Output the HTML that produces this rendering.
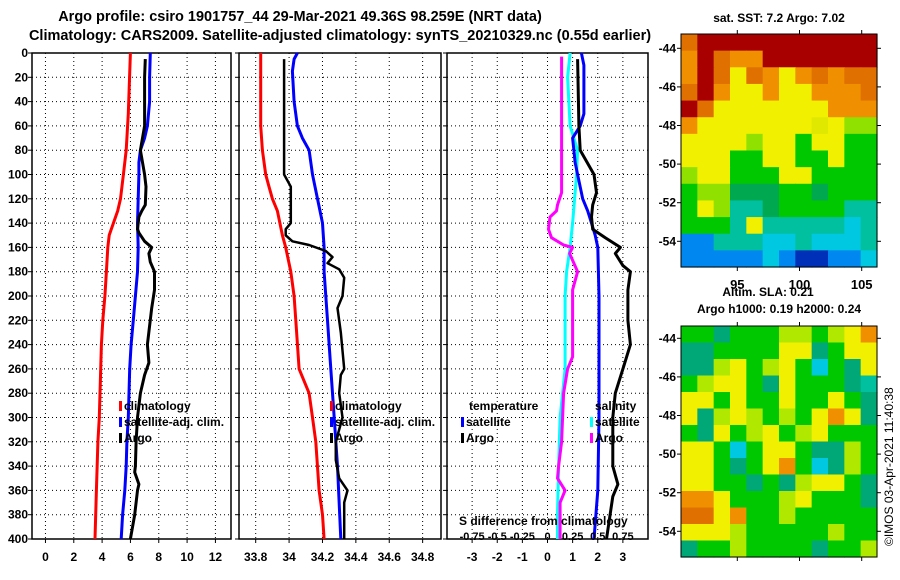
<!DOCTYPE html>
<html><head><meta charset="utf-8"><style>
body{margin:0;background:#fff;}
svg{display:block;font-family:"Liberation Sans",sans-serif;font-weight:bold;}
</style></head><body>
<svg id="c" width="900" height="580" viewBox="0 0 900 580">
<text x="300" y="21" font-size="14.5" text-anchor="middle">Argo profile: csiro 1901757_44 29-Mar-2021 49.36S 98.259E (NRT data)</text>
<text x="340" y="40" font-size="14.5" text-anchor="middle">Climatology: CARS2009. Satellite-adjusted climatology: synTS_20210329.nc (0.55d earlier)</text>
<text x="779" y="22" font-size="12" text-anchor="middle">sat. SST: 7.2 Argo: 7.02</text>
<text x="768" y="296" font-size="12" text-anchor="middle">Altim. SLA: 0.21</text>
<text x="779" y="313" font-size="12" text-anchor="middle">Argo h1000: 0.19 h2000: 0.24</text>
<text transform="translate(893,546) rotate(-90)" font-size="12" font-weight="normal">©IMOS 03-Apr-2021 11:40:38</text>
</svg>
<script>
// ---- data ----
const tClimD=[0,50,80,100,120,130,140,150,160,180,200,220,240,260,280,300,320,360,400];
const tClimV=[6.0,5.85,5.7,5.5,5.3,5.1,4.8,4.5,4.4,4.3,4.2,4.05,3.95,3.9,3.85,3.8,3.7,3.6,3.5];
const tSatD=[0,20,40,60,70,80,90,100,140,160,180,200,220,240,260,280,300,320,340,360,380,400];
const tSatV=[7.4,7.35,7.35,7.2,7.0,6.7,6.6,6.6,6.5,6.55,6.5,6.35,6.2,6.05,5.95,5.9,5.85,5.75,5.7,5.6,5.45,5.35];
const tArgoD=[5,20,60,80,100,110,125,130,135,145,148,155,160,165,172,180,195,210,240,255,265,280,300,320,340,345,355,360,380,400];
const tArgoV=[7.05,7.0,7.0,6.7,7.0,7.1,7.05,6.8,6.6,6.5,6.6,7.0,7.5,7.3,7.4,7.7,7.7,7.5,7.2,7.3,7.0,6.7,6.5,6.4,6.35,6.3,6.6,6.5,6.3,6.0];
const sClimD=[0,60,80,100,110,120,130,150,160,180,200,220,260,280,300,320,360,380,400];
const sClimV=[33.83,33.83,33.84,33.86,33.88,33.9,33.93,33.96,33.98,34.01,34.03,34.04,34.06,34.12,34.14,34.16,34.18,34.2,34.21];
const sSatD=[0,5,15,40,60,70,80,100,120,140,160,180,220,260,300,340,400];
const sSatV=[34.05,34.03,34.02,34.03,34.05,34.08,34.12,34.14,34.17,34.2,34.21,34.21,34.23,34.25,34.27,34.29,34.31];
const sArgoD=[5,100,110,140,145,150,155,158,163,168,173,178,185,200,210,230,260,265,280,300,320,335,350,360,370,400];
const sArgoV=[33.97,33.97,34.01,34.01,33.98,33.98,34.02,34.12,34.22,34.26,34.23,34.3,34.33,34.32,34.29,34.31,34.33,34.31,34.3,34.32,34.28,34.28,34.3,34.35,34.33,34.33];
const dtSatD=[0,10,50,60,70,80,90,100,120,130,140,150,160,200,300,360,400];
const dtSatV=[1.35,1.45,1.45,1.3,1.0,1.05,1.1,1.2,1.4,1.6,1.75,1.9,2.0,2.05,2.05,2.0,1.85];
const dtArgoD=[5,60,80,100,115,125,135,145,152,160,165,175,180,195,220,240,260,280,300,320,340,355,365,400];
const dtArgoV=[1.2,1.25,1.3,1.85,1.95,1.8,1.75,1.8,2.3,2.9,2.7,3.0,3.3,3.2,3.2,3.3,3.0,2.7,2.6,2.6,2.6,2.8,2.6,2.35];
const dsSatD=[0,20,60,80,100,140,160,180,200,260,280,300,340,380,400];
const dsSatV=[0.225,0.2,0.225,0.3,0.29,0.25,0.225,0.19,0.175,0.175,0.15,0.125,0.11,0.1,0.1];
const dsArgoD=[3,100,115,125,130,135,145,152,158,160,165,180,195,220,250,260,280,300,320,340,350,360,370,400];
const dsArgoV=[0.14,0.14,0.14,0.1,0.09,0.025,0.01,0.04,0.16,0.25,0.22,0.3,0.25,0.25,0.25,0.2,0.16,0.15,0.14,0.11,0.1,0.175,0.125,0.125];
const depthTicks=[0,20,40,60,80,100,120,140,160,180,200,220,240,260,280,300,320,340,360,380,400];
const tTicks=[0,2,4,6,8,10,12];
const sTicks=[33.8,34,34.2,34.4,34.6,34.8];
const dTicks=[-3,-2,-1,0,1,2,3];
const dsTickLabels=["-0.75","-0.5","-0.25","0","0.25","0.5","0.75"];
const dsTickVals=[-0.75,-0.5,-0.25,0,0.25,0.5,0.75];

const NS='http://www.w3.org/2000/svg';
const svg=document.getElementById('c');
function el(tag,attrs,parent){const e=document.createElementNS(NS,tag);for(const k in attrs)e.setAttribute(k,attrs[k]);(parent||svg).appendChild(e);return e;}
const Y0=53,Y1=539;
const yS=d=>Y0+(Y1-Y0)*d/400;
function panel(name,x0,x1,dmin,dmax,ticks,labelTicks,showDepth){
  const g=el('g',{});
  
  
  const xs=v=>x0+(x1-x0)*(v-dmin)/(dmax-dmin);
  ticks.forEach(t=>{const x=xs(t);
    const l=el('line',{x1:x,x2:x,y1:Y0,y2:Y1,stroke:'#000','stroke-dasharray':'1,3','stroke-width':1},g);
    
    el('line',{x1:x,x2:x,y1:Y1,y2:Y1+4,stroke:'#000'},g);
    if(labelTicks){const tx=el('text',{x:x,y:Y1+22,'font-size':12,'text-anchor':'middle'},g);tx.textContent=String(t);
      }
  });
  depthTicks.forEach(d=>{const y=yS(d);
    const l=el('line',{x1:x0,x2:x1,y1:y,y2:y,stroke:'#000','stroke-dasharray':'1,3'},g);
    
    el('line',{x1:x0-4,x2:x0,y1:y,y2:y,stroke:'#000'},g);
    if(showDepth){const tx=el('text',{x:x0-4,y:y+4,'font-size':12,'text-anchor':'end'},g);tx.textContent=String(d);
      }
  });
  const r=el('rect',{x:x0,y:Y0,width:x1-x0,height:Y1-Y0,fill:'none',stroke:'#000','stroke-width':1.5},g);
  
  return {g,xs};
}
function line(p,D,V,color,w,name,scale){
  const pts=D.map((d,i)=>p.xs(V[i]*(scale||1)).toFixed(1)+','+yS(d).toFixed(1)).join(' ');
  const pl=el('polyline',{points:pts,fill:'none',stroke:color,'stroke-width':w,'stroke-linejoin':'round'},p.g);
  
  
}
function legend(x,y,color,text,name){
  el('rect',{x:x,y:y-9,width:3,height:10,fill:color});
  const t=el('text',{x:x+5,y:y,'font-size':12});t.textContent=text;
  
  
}
// panel 1
const p1=panel('temperature-panel',32,231,-0.95,13.1,tTicks,true,true);
line(p1,tClimD,tClimV,'#f00',3,'temp-climatology-line');
line(p1,tSatD,tSatV,'#00f',3,'temp-satellite-line');
line(p1,tArgoD,tArgoV,'#000',3,'temp-argo-line');
legend(119,410,'#f00','climatology','legend-climatology');
legend(119,426,'#00f','satellite-adj. clim.','legend-satellite');
legend(119,442,'#000','Argo','legend-argo');
// panel 2
const p2=panel('salinity-panel',239,441,33.70,34.91,sTicks,true,false);
line(p2,sClimD,sClimV,'#f00',3,'sal-climatology-line');
line(p2,sSatD,sSatV,'#00f',3,'sal-satellite-line');
line(p2,sArgoD,sArgoV,'#000',2.5,'sal-argo-line');
legend(330,410,'#f00','climatology','legend-climatology-2');
legend(330,426,'#00f','satellite-adj. clim.','legend-satellite-2');
legend(330,442,'#000','Argo','legend-argo-2');
// panel 3
const p3=panel('difference-panel',447,648,-4,4,dTicks,true,false);
line(p3,dsSatD,dsSatV,'#0ff',3,'sal-diff-satellite-line',4);
line(p3,dsArgoD,dsArgoV,'#f0f',3,'sal-diff-argo-line',4);
line(p3,dtSatD,dtSatV,'#00f',3,'temp-diff-satellite-line');
line(p3,dtArgoD,dtArgoV,'#000',3,'temp-diff-argo-line');
{const t=el('text',{x:469,y:410,'font-size':12});t.textContent='temperature';

const s=el('text',{x:595,y:410,'font-size':12});s.textContent='salinity';
}
legend(461,426,'#00f','satellite','legend-temp-satellite');
legend(461,442,'#000','Argo','legend-temp-argo');
legend(590,426,'#0ff','satellite','legend-sal-satellite');
legend(590,442,'#f0f','Argo','legend-sal-argo');
{const t=el('text',{x:459,y:525,'font-size':12});t.textContent='S difference from climatology';
}
dsTickVals.forEach((v,i)=>{const t=el('text',{x:p3.xs(v*4),y:540,'font-size':11,'text-anchor':'middle'});t.textContent=dsTickLabels[i];
});

// maps
const pal={R:'#a80000',r:'#c83000',O:'#f09000',o:'#e07000',Y:'#f0f000',y:'#e0e800',g:'#90e000',G:'#00c800',D:'#00a850',T:'#00c0a0',C:'#00c8e0',B:'#0088f0',N:'#0030b8',L:'#b0e800',K:'#00a878'};
const map1=["oRRRRRRRRRRR","ORoOORRRRRRR","ORoYoOYOoOoo","oROYYOYYOOOo","RoYYYYYYYOOO","OYYYYYYYyYgg","YYYYgYYGYYGG","YYYGGYYGGYGG","gYYGGGYYGGGG","GggDDDGGDGGG","GYgTTDGGGGTT","GGGTYTTTTTCT","BBTTTCCTCCCT","BBBBBCBNNBBC"];
const map2=["GGKGGGLLGLYO","KKGGGGYYKGYY","KKLYGLYGCGKY","GLYYGKYGGGKT","YYGYGGYGGYGK","YKLYLGLGYOYK","GKYGLYGLYGGG","YYGCGYYGKKLG","YYGKGYOGCKLG","YYGGKGKLYYGK","OOYGGGLYGGGK","ooYOGGLGGGGG","YYYLGGGGGLGG","KGGLGGGGKGGL"];
function drawMap(name,grid,x0,y0,w,h,latTop){
  const g=el('g',{});
  
  
  const rows=grid.length,cols=grid[0].length,cw=w/cols,ch=h/rows;
  grid.forEach((row,i)=>{for(let j=0;j<cols;j++){el('rect',{x:x0+j*cw,y:y0+i*ch,width:cw+0.6,height:ch+0.6,fill:pal[row[j]]},g);}});
  el('rect',{x:x0,y:y0,width:w,height:h,fill:'none',stroke:'#000','stroke-width':1},g);
  [-44,-46,-48,-50,-52,-54].forEach(l=>{const y=latTop+(-44-l)*19.3;
    el('line',{x1:x0+w,x2:x0+w+4,y1:y,y2:y,stroke:'#000'},g);
    el('line',{x1:x0-4,x2:x0,y1:y,y2:y,stroke:'#000'},g);
    const t=el('text',{x:x0-5,y:y+4,'font-size':12,'text-anchor':'end'},g);t.textContent=String(l);
    });
  [95,100,105].forEach(lo=>{const x=737.3+(lo-95)*12.44;
    el('line',{x1:x,x2:x,y1:y0-4,y2:y0,stroke:'#000'},g);
    el('line',{x1:x,x2:x,y1:y0+h,y2:y0+h+4,stroke:'#000'},g);});
  return g;
}
drawMap('sst-map',map1,681,34,196,233,48.3);
[95,100,105].forEach(lo=>{const t=el('text',{x:737.3+(lo-95)*12.44,y:289,'font-size':13,'text-anchor':'middle'});t.textContent=String(lo);
});
drawMap('sla-map',map2,681,326,196,231,338.3);
</script>
</body></html>
